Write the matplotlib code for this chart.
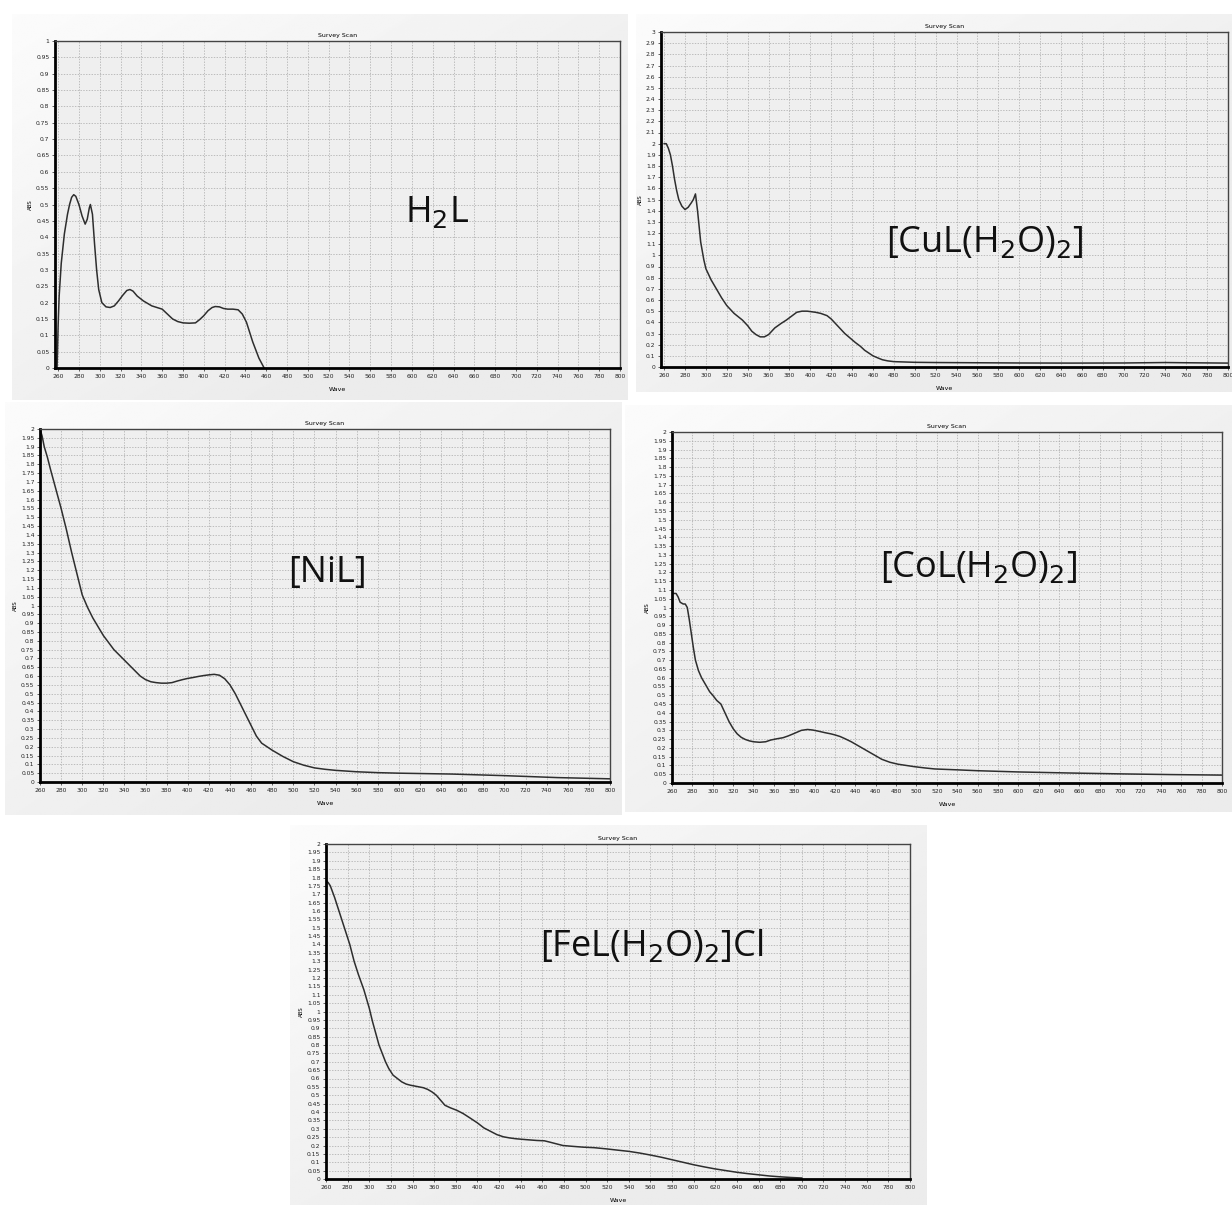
import numpy as np
import matplotlib
matplotlib.use("Agg")
import matplotlib.pyplot as plt
from matplotlib.ticker import FuncFormatter

W, H = 1232, 1205

# ---- data (wavelength nm, absorbance) ----
h2l_wave = [259, 260, 261, 263, 266, 269, 271, 273, 275, 277, 280, 283, 286, 288, 290, 291,
            293, 295, 297, 299, 302, 306, 310, 314, 318, 322, 326, 329, 332, 336, 342, 350,
            355, 360, 365, 370, 375, 380, 386, 392, 396, 400, 404, 408, 411, 415, 419, 423,
            428, 433, 437, 441, 444, 447, 450, 453, 455, 457, 458]
h2l_abs = [0.0, 0.13, 0.22, 0.32, 0.41, 0.47, 0.5, 0.522, 0.53, 0.525, 0.5, 0.465, 0.44, 0.455,
           0.49, 0.5, 0.47, 0.38, 0.3, 0.24, 0.2, 0.187, 0.185, 0.19, 0.205, 0.222, 0.237, 0.24,
           0.235, 0.22, 0.205, 0.19, 0.185, 0.18, 0.165, 0.15, 0.142, 0.138, 0.137, 0.138, 0.148,
           0.16, 0.175, 0.185, 0.188, 0.187, 0.182, 0.18, 0.18, 0.178, 0.165, 0.14, 0.11, 0.08,
           0.055, 0.03, 0.018, 0.006, 0.0]

cu_wave = [260, 262, 264, 266, 268, 270, 272, 274, 277, 280, 283, 286, 288, 290, 292, 295,
           298, 300, 305, 310, 315, 320, 327, 335, 340, 344, 348, 352, 356, 360, 366, 372,
           377, 382, 387, 392, 397, 405, 410, 416, 420, 424, 428, 433, 438, 443, 448, 452,
           456, 460, 465, 469, 474, 480, 490, 500, 520, 560, 600, 650, 700, 740, 760, 800]
cu_abs = [2.0, 2.0, 1.96, 1.9, 1.8, 1.68, 1.58, 1.5, 1.44, 1.41, 1.43, 1.47, 1.5, 1.55, 1.4,
          1.12, 0.96, 0.88, 0.78, 0.7, 0.62, 0.55, 0.48, 0.42, 0.37, 0.32, 0.29, 0.27, 0.27,
          0.29, 0.35, 0.39, 0.42, 0.455, 0.49, 0.5, 0.5, 0.49, 0.48, 0.46, 0.43, 0.39, 0.35,
          0.3, 0.26, 0.22, 0.185, 0.15, 0.125, 0.1, 0.08, 0.065, 0.055, 0.048, 0.045, 0.042,
          0.04, 0.038, 0.036, 0.035, 0.036, 0.04, 0.038, 0.035]

ni_wave = [260, 262, 264, 267, 270, 275, 280, 285, 290, 295, 300, 305, 310, 315, 320, 325,
           330, 335, 340, 345, 350, 355, 360, 365, 370, 375, 380, 385, 390, 395, 400, 405,
           410, 415, 420, 425, 430, 435, 440, 445, 450, 455, 460, 465, 470, 475, 480, 490,
           500, 510, 520, 530, 540, 560, 580, 600, 650, 700, 750, 800]
ni_abs = [2.0, 1.96, 1.9, 1.84, 1.77, 1.66, 1.55, 1.43, 1.3, 1.18, 1.06, 0.99, 0.93, 0.88,
          0.83, 0.79, 0.75, 0.72, 0.69, 0.66, 0.63, 0.6, 0.58, 0.568, 0.563, 0.56, 0.56, 0.563,
          0.572, 0.58, 0.587, 0.592, 0.598, 0.603, 0.607, 0.61, 0.605, 0.585, 0.55, 0.5, 0.44,
          0.38, 0.32, 0.26, 0.22, 0.2, 0.18, 0.145, 0.115, 0.095, 0.08, 0.072, 0.066, 0.058,
          0.053, 0.05, 0.045, 0.036, 0.025, 0.018]

co_wave = [260, 262, 264, 266, 268, 271, 273, 275, 277, 279, 281, 283, 286, 289, 293, 297,
           300, 304, 308, 312, 316, 320, 324, 328, 332, 336, 340, 346, 352, 357, 363, 369,
           374, 379, 383, 387, 393, 398, 404, 410, 416, 420, 425, 430, 436, 442, 448, 454,
           460, 466, 474, 482, 490, 498, 508, 518, 540, 560, 600, 650, 700, 750, 800]
co_abs = [1.08, 1.08, 1.08, 1.06, 1.03, 1.02, 1.02, 1.0, 0.93, 0.85, 0.77, 0.7, 0.64, 0.6,
          0.56, 0.52, 0.5, 0.47, 0.45, 0.4, 0.35, 0.31, 0.28, 0.26, 0.248, 0.24, 0.235, 0.232,
          0.235, 0.245, 0.252, 0.258, 0.268, 0.28, 0.29, 0.3, 0.305, 0.302, 0.295, 0.287,
          0.28, 0.274, 0.265, 0.252, 0.235, 0.215, 0.195, 0.175, 0.155, 0.135, 0.118, 0.107,
          0.1, 0.093, 0.086, 0.08, 0.075, 0.07, 0.063, 0.057, 0.052, 0.048, 0.045]

fe_wave = [260, 262, 264, 268, 272, 277, 282, 286, 290, 295, 300, 303, 306, 309, 312, 315,
           318, 322, 326, 330, 334, 338, 342, 346, 350, 354, 358, 362, 366, 370, 375, 381,
           387, 393, 400, 406, 412, 418, 424, 430, 436, 445, 455, 462, 467, 473, 479, 488,
           498, 508, 519, 530, 540, 550, 560, 570, 580, 590, 600, 610, 620, 630, 640, 650,
           660, 670, 680, 690, 700]
fe_abs = [1.78, 1.77, 1.75, 1.68, 1.6, 1.5, 1.4, 1.3, 1.22, 1.13, 1.02, 0.94, 0.87, 0.8, 0.75,
          0.7, 0.66, 0.62, 0.6, 0.58, 0.567, 0.56, 0.555, 0.55, 0.545, 0.535, 0.52, 0.5, 0.47,
          0.44, 0.425, 0.41, 0.39, 0.365, 0.335, 0.305, 0.285, 0.265, 0.252, 0.245, 0.24,
          0.235, 0.23, 0.228, 0.22, 0.21, 0.2, 0.195, 0.19, 0.187, 0.18, 0.172, 0.165, 0.155,
          0.143, 0.13, 0.115, 0.1, 0.085, 0.072, 0.06, 0.05, 0.04, 0.032, 0.025, 0.018, 0.013,
          0.009, 0.006]

x_ticks = list(range(260, 801, 20))

# label, data, x start, y max, y step, panel box, plot box (pixels: x0, y0, x1, y1), label position
panels = [
    ("H$_2$L", h2l_wave, h2l_abs, 257, 1.0, 0.05, (12, 14, 628, 400), (55, 41, 620, 368), (437, 213)),
    ("[CuL(H$_2$O)$_2$]", cu_wave, cu_abs, 257, 3.0, 0.1, (636, 14, 1232, 392), (661, 32, 1228, 367), (985, 243)),
    ("[NiL]", ni_wave, ni_abs, 260, 2.0, 0.05, (5, 402, 622, 815), (40, 429, 610, 782), (327, 573)),
    ("[CoL(H$_2$O)$_2$]", co_wave, co_abs, 260, 2.0, 0.05, (625, 405, 1232, 812), (672, 432, 1222, 783), (978, 568)),
    ("[FeL(H$_2$O)$_2$]Cl", fe_wave, fe_abs, 260, 2.0, 0.05, (290, 825, 927, 1205), (326, 844, 910, 1179), (652, 946)),
]


def frac(box):
    x0, y0, x1, y1 = box
    return [x0 / W, 1 - y1 / H, (x1 - x0) / W, (y1 - y0) / H]


fig = plt.figure(figsize=(W / 100, H / 100), dpi=100)
fig.patch.set_facecolor("white")

grad = np.linspace(0, 1, 200)
gx, gy = np.meshgrid(grad, grad)
shade = 0.985 - 0.06 * np.clip((gx + gy) / 1.4, 0, 1)

for label, wave, absb, xstart, ymax, ystep, outer, inner, lpos in panels:
    # gray panel background of the screenshot
    bg = fig.add_axes(frac(outer))
    bg.imshow(shade, cmap="gray", vmin=0, vmax=1, aspect="auto", extent=[0, 1, 0, 1])
    bg.set_axis_off()

    ax = fig.add_axes(frac(inner))
    ax.set_facecolor("#efefef")
    ax.plot(wave, absb, color="#2e2e2e", lw=1.1)
    ax.set_xlim(xstart, 800)
    ax.set_ylim(0, ymax)
    ax.set_xticks(x_ticks)
    yt = np.round(np.arange(0, ymax + ystep / 2, ystep), 2)
    ax.set_yticks(yt)
    ax.yaxis.set_major_formatter(FuncFormatter(lambda v, p: "%g" % round(v, 2)))
    ax.tick_params(labelsize=4.3, length=2, width=0.5, pad=2, colors="#222222")
    ax.grid(True, color="#a8a8a8", ls=(0, (2, 2)), lw=0.5)
    for s in ["left", "bottom"]:
        ax.spines[s].set_linewidth(2)
        ax.spines[s].set_color("black")
    for s in ["top", "right"]:
        ax.spines[s].set_linewidth(1)
        ax.spines[s].set_color("#444444")
    ax.set_title("Survey Scan", fontsize=4.5, pad=3)
    ax.set_xlabel("Wave", fontsize=4.5, labelpad=6)
    ax.set_ylabel("ABS", fontsize=4, labelpad=2)

    fig.text(lpos[0] / W, 1 - lpos[1] / H, label, fontsize=26, family="Open Sans",
             ha="center", va="center", color="#111111")

fig.savefig("out.png", dpi=100, facecolor="white")
